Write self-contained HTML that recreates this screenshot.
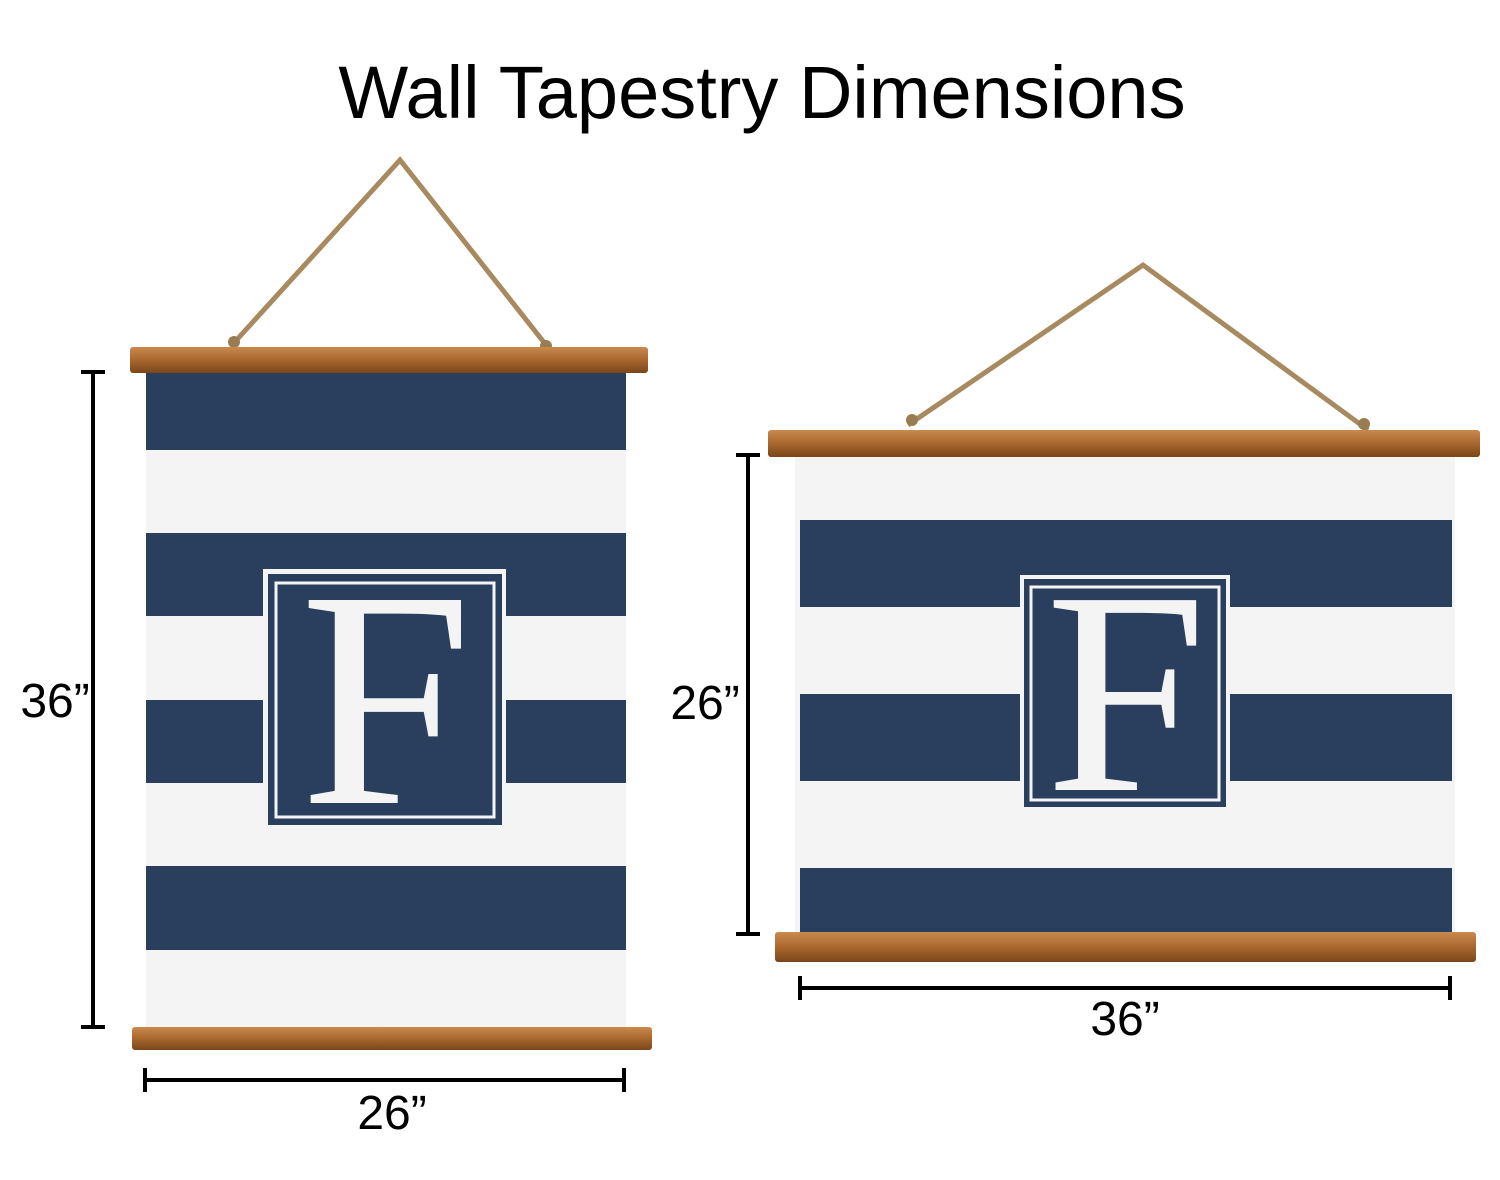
<!DOCTYPE html>
<html><head><meta charset="utf-8"><style>
html,body{margin:0;padding:0;background:#fff;}
svg{display:block;}
text{font-family:"Liberation Sans",sans-serif;fill:#000;}
</style></head><body>
<svg width="1500" height="1180" viewBox="0 0 1500 1180" xmlns="http://www.w3.org/2000/svg">
<defs>
<linearGradient id="wood" x1="0" y1="0" x2="0" y2="1">
<stop offset="0" stop-color="#c98a4e"/><stop offset="0.5" stop-color="#a8672e"/><stop offset="1" stop-color="#7a4618"/>
</linearGradient>
</defs>
<text x="762" y="118" font-size="74" text-anchor="middle">Wall Tapestry Dimensions</text>

<!-- LEFT -->
<polyline points="232,345 400,160 550,350" fill="none" stroke="#a88a60" stroke-width="5"/>
<circle cx="234" cy="342" r="6" fill="#9a7c52"/><circle cx="546" cy="346" r="6" fill="#9a7c52"/>
<rect x="146" y="370" width="480" height="660" fill="#f4f4f4"/>
<g fill="#2a3f5e">
<rect x="146" y="370" width="480" height="80"/>
<rect x="146" y="533" width="480" height="83"/>
<rect x="146" y="700" width="480" height="83"/>
<rect x="146" y="866" width="480" height="84"/>
</g>
<rect x="263" y="569" width="243" height="257" fill="#f4f4f4"/>
<rect x="268" y="574" width="234" height="251" fill="#2a3f5e"/>
<rect x="276" y="583" width="218" height="234" fill="none" stroke="#f4f4f4" stroke-width="3"/>
<text x="386" y="803" font-size="310" text-anchor="middle" style="font-family:'Liberation Serif',serif;fill:#f4f4f4;letter-spacing:0">F</text>
<rect x="130" y="347" width="518" height="26" rx="3" fill="url(#wood)"/>
<rect x="132" y="1027" width="520" height="23" rx="3" fill="url(#wood)"/>

<!-- RIGHT -->
<polyline points="908,425 1143,265 1368,430" fill="none" stroke="#a88a60" stroke-width="5"/>
<circle cx="912" cy="420" r="6" fill="#9a7c52"/><circle cx="1364" cy="424" r="6" fill="#9a7c52"/>
<rect x="795" y="455" width="660" height="480" fill="#f4f4f4"/>
<g fill="#2a3f5e">
<rect x="800" y="520" width="652" height="87"/>
<rect x="800" y="694" width="652" height="87"/>
<rect x="800" y="868" width="652" height="67"/>
</g>
<rect x="1020" y="575" width="210" height="235" fill="#f4f4f4"/>
<rect x="1024" y="579" width="202" height="228" fill="#2a3f5e"/>
<rect x="1031" y="587" width="188" height="213" fill="none" stroke="#f4f4f4" stroke-width="3"/>
<text x="1126" y="790" font-size="290" text-anchor="middle" style="font-family:'Liberation Serif',serif;fill:#f4f4f4">F</text>
<rect x="768" y="430" width="712" height="27" rx="3" fill="url(#wood)"/>
<rect x="775" y="932" width="701" height="30" rx="3" fill="url(#wood)"/>

<!-- dimension lines -->
<g stroke="#000" stroke-width="4" fill="none">
<line x1="93" y1="372" x2="93" y2="1027"/><line x1="81" y1="372" x2="105" y2="372"/><line x1="81" y1="1027" x2="105" y2="1027"/>
<line x1="145" y1="1080" x2="624" y2="1080"/><line x1="145" y1="1068" x2="145" y2="1092"/><line x1="624" y1="1068" x2="624" y2="1092"/>
<line x1="748" y1="455" x2="748" y2="934"/><line x1="736" y1="455" x2="760" y2="455"/><line x1="736" y1="934" x2="760" y2="934"/>
<line x1="800" y1="988" x2="1450" y2="988"/><line x1="800" y1="976" x2="800" y2="1000"/><line x1="1450" y1="976" x2="1450" y2="1000"/>
</g>
<text x="55" y="717" font-size="48" text-anchor="middle">36”</text>
<text x="392" y="1129" font-size="48" text-anchor="middle">26”</text>
<text x="705" y="719" font-size="48" text-anchor="middle">26”</text>
<text x="1125" y="1035" font-size="48" text-anchor="middle">36”</text>
</svg>
</body></html>
